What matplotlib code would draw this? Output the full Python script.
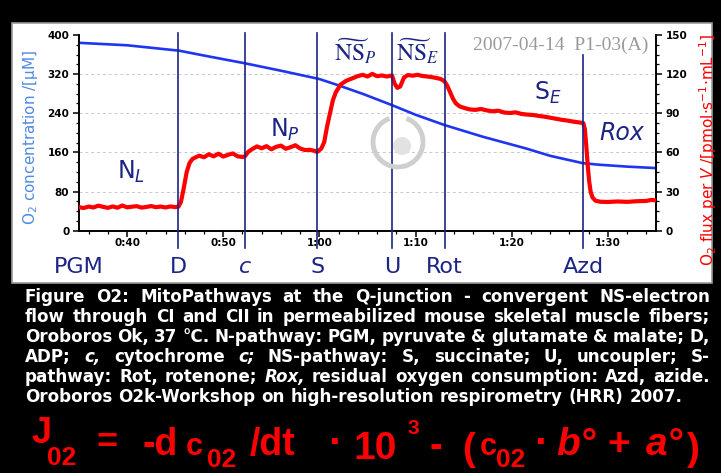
import matplotlib
matplotlib.use("Agg")
import matplotlib.pyplot as plt
from matplotlib.patches import Rectangle, Arc, Circle
from matplotlib.ticker import MultipleLocator
import matplotlib.transforms as mtransforms

W, H = 721, 473

# O2 concentration (blue, left axis), time in minutes
o2_time = [35, 40, 45.4, 48, 52.3, 56, 60, 62, 64.6, 67.5, 70, 73, 77, 81.5, 84, 87.4, 89, 92, 95]
o2_conc = [384, 379, 368, 358, 342, 327, 310, 297, 279, 257, 237, 216, 192, 168, 153, 138, 135, 131, 128]

# O2 flux per volume (red, right axis)
flux_time = [35, 35.5, 36, 36.5, 37, 37.5, 38, 38.5, 39, 39.5, 40, 40.5, 41, 41.5, 42, 42.5, 43, 43.5,
             44, 44.5, 45, 45.34,
             45.6, 45.9, 46.2, 46.5, 46.8, 47.2,
             47.5, 48, 48.5, 49, 49.5, 50, 50.5, 51, 51.5, 52, 52.25,
             52.6, 53, 53.5, 54, 54.5, 55, 55.5, 56, 56.5, 57, 57.5, 58, 58.5, 59, 59.5, 59.76,
             60.2, 60.5, 60.8, 61.1, 61.4, 61.7, 62.2, 62.8, 63.5, 64, 64.5, 65, 65.5, 66, 66.5, 67, 67.55,
             67.8, 68.1, 68.4, 68.8, 69.2, 69.7, 70.2, 70.7, 71.2, 71.7, 72.2, 72.6, 73.01,
             73.3, 73.6, 73.9, 74.2, 74.6, 75.1, 75.6, 76.2, 76.8, 77.4, 78, 78.6, 79.2, 79.8, 80.4,
             81, 81.6, 82.2, 82.8, 83.4, 84, 84.6, 85.2, 85.8, 86.4, 87, 87.44,
             87.6, 87.75, 87.9, 88.05, 88.2, 88.4, 88.7, 89.2, 90, 91, 92, 93, 94, 94.5, 95]
flux_val = [18.0, 17.4, 18.5, 17.8, 19.2, 18.3, 17.5, 18.6, 17.6, 19.3, 17.9, 18.4, 18.8, 17.7, 18.2, 18.9, 18.0, 18.5,
            17.8, 18.6, 18.1, 18.4,
            22, 33, 45, 52, 55, 56.5,
            57.5, 56.3, 58.6, 57.0, 59.0, 56.8, 58.2, 59.2, 57.0, 56.5, 57.0,
            60.5, 62.5, 64.6, 63.2, 64.8, 62.4, 64.3, 65.2, 62.8, 64.0, 65.5, 63.0, 61.8, 62.0, 61.2, 60.3,
            63, 68, 80, 90, 100, 106, 112, 115, 117, 118.5, 119.5, 118.2, 120.2, 118.4, 119.0, 118.2, 119.0,
            113, 109.5, 110.5, 117.5, 119.3, 118.8, 119.5, 118.6, 118.2, 117.7, 117.0, 116.3, 114.5,
            111, 106, 101, 97.5, 95.2, 94.0, 93.0, 92.6, 93.3, 92.2, 91.5, 92.0, 90.6, 90.2, 90.7,
            89.5, 89.0, 88.7, 88.0, 87.4, 86.6, 85.8, 85.0, 84.4, 83.6, 83.0, 82.5,
            78, 65, 50, 38, 30, 25.5, 23.0, 22.2, 22.0, 22.4, 22.1, 22.6, 22.8, 23.6, 23.2]

# titration events
event_labels = ["D", "c", "S", "U", "Rot", "Azd"]
event_times = [45.34, 52.25, 59.76, 67.55, 73.01, 87.44]

x_ticks = [40, 50, 60, 70, 80, 90]
x_ticklabels = ["0:40", "0:50", "1:00", "1:10", "1:20", "1:30"]
left_ticks = [0, 80, 160, 240, 320, 400]
right_ticks = [0, 30, 60, 90, 120, 150]

caption_lines = [
    "Figure O2: MitoPathways at the Q-junction - convergent NS-electron",
    "flow through CI and CII in permeabilized mouse skeletal muscle fibers;",
    "Oroboros Ok, 37 °C. N-pathway: PGM, pyruvate & glutamate & malate; D,",
    "ADP; c, cytochrome c; NS-pathway: S, succinate; U, uncoupler; S-",
    "pathway: Rot, rotenone; Rox, residual oxygen consumption: Azd, azide.",
    "Oroboros O2k-Workshop on high-resolution respirometry (HRR) 2007.",
]
italic_words = {"c,", "c;", "Rox,"}

NAVY = "#1c2484"
BLUE = "#1f35f0"
RED = "#ff0000"

fig = plt.figure(figsize=(W / 100, H / 100), dpi=100, facecolor="black")

# white panel behind the chart
fig.add_artist(Rectangle((12 / W, 1 - 283 / H), 700 / W, 260 / H, transform=fig.transFigure,
                         facecolor="white", edgecolor="#9a9a9a", lw=1.2, zorder=0))

ax = fig.add_axes([79 / W, 1 - 230.7 / H, 577 / W, 195.7 / H])
ax.set_facecolor("none")
ax.set_xlim(35, 95)
ax.set_ylim(0, 400)
ax2 = ax.twinx()
ax2.set_ylim(0, 150)

for v in [80, 160, 240, 320]:
    ax.axhline(v, color="#c8c8c8", lw=0.7, ls=(0, (3, 3)), zorder=0)

ax.plot(o2_time, o2_conc, color=BLUE, lw=1.9, zorder=3)
ax2.plot(flux_time, flux_val, color=RED, lw=3.0, solid_capstyle="round", solid_joinstyle="round", zorder=3)

# vertical event lines and labels below
for lab, t in zip(event_labels, event_times):
    top = 0.898 if lab == "Azd" else 1.012
    ax2.axvline(t, ymin=-0.088, ymax=top, color=NAVY, lw=1.2, clip_on=False, zorder=6)
    ax2.text(t, -0.184, lab, transform=ax2.get_xaxis_transform(), ha="center", va="center",
             fontsize=16, color=NAVY, style="italic" if lab == "c" else "normal")
ax2.text(35, -0.184, "PGM", transform=ax2.get_xaxis_transform(), ha="center", va="center",
         fontsize=16, color=NAVY)

# state labels
ax.text(40.4, 121, r"N$_L$", fontsize=17, color=NAVY, ha="center", va="center")
ax.text(56.4, 206, r"N$_P$", fontsize=17, color=NAVY, ha="center", va="center")
ax.text(83.8, 282, r"S$_E$", fontsize=17, color=NAVY, ha="center", va="center")
ax.text(91.4, 200, "Rox", fontsize=17, color=NAVY, ha="center", va="center", style="italic")
ax.text(63.7, 366, r"$\widetilde{\mathrm{NS}}_{P}$", fontsize=17, color=NAVY, ha="center",
        va="center", math_fontfamily="stix")
ax.text(70.2, 366, r"$\widetilde{\mathrm{NS}}_{E}$", fontsize=17, color=NAVY, ha="center",
        va="center", math_fontfamily="stix")

ax.text(0.986, 0.949, "2007-04-14  P1-03(A)", transform=ax.transAxes, ha="right", va="center",
        fontsize=14, color="#9a9a9a", family="Liberation Serif")

# faint logo
ring = Arc((398, H - 142), 50, 50, theta1=110, theta2=430, transform=mtransforms.IdentityTransform(),
           color="#cfcfcf", lw=3.5, zorder=1)
fig.add_artist(ring)
fig.add_artist(Circle((402, H - 146), 9, transform=mtransforms.IdentityTransform(),
                      facecolor="#e2e2e2", edgecolor="none", zorder=1))

# axes styling
ax.set_xticks(x_ticks)
ax.set_xticklabels(x_ticklabels)
ax.xaxis.set_minor_locator(MultipleLocator(2))
ax.set_yticks(left_ticks)
ax.yaxis.set_minor_locator(MultipleLocator(20))
ax2.set_yticks(right_ticks)
ax2.yaxis.set_minor_locator(MultipleLocator(7.5))
for a in (ax, ax2):
    a.spines["top"].set_visible(False)
    for s in a.spines.values():
        s.set_linewidth(1.2)
    a.tick_params(which="major", direction="out", length=4, width=1.1, pad=3, labelsize=7.5)
    a.tick_params(which="minor", direction="out", length=2.5, width=0.9)
    for lbl in a.get_xticklabels() + a.get_yticklabels():
        lbl.set_fontweight("bold")
ax.tick_params(axis="x", pad=1.5)

ax.set_ylabel(r"O$_2$ concentration /[µM]", color="#4f8ae0", fontsize=11)
ax.yaxis.set_label_coords(-0.068, 0.474)
ax2.set_ylabel(r"O$_2$ flux per $V$ /[pmol·s$^{-1}$·mL$^{-1}$]", color=RED, fontsize=11)
ax2.yaxis.set_label_coords(1.071, 0.412)

# caption, justified like the original
renderer = fig.canvas.get_renderer()
probe = fig.text(0, 0, caption_lines[-1], fontsize=10, fontweight="bold")
cap_size = 10 * 660 / probe.get_window_extent(renderer).width
probe.remove()

left_px, right_px = 25, 710
for i, line in enumerate(caption_lines):
    base = 1 - (301.7 + 20 * i) / H
    words = line.split(" ")
    texts = []
    for w in words:
        texts.append(fig.text(0, base, w, color="white", fontsize=cap_size, fontweight="bold",
                              style="italic" if w in italic_words else "normal",
                              ha="left", va="baseline"))
    widths = [t.get_window_extent(renderer).width for t in texts]
    if i < len(caption_lines) - 1:
        gap = (right_px - left_px - sum(widths)) / (len(words) - 1)
    else:
        sp = fig.text(0, 0, "a a", fontsize=cap_size, fontweight="bold")
        sa = fig.text(0, 0, "aa", fontsize=cap_size, fontweight="bold")
        gap = sp.get_window_extent(renderer).width - sa.get_window_extent(renderer).width
        sp.remove()
        sa.remove()
    x = left_px
    for t, w in zip(texts, widths):
        t.set_x(x / W)
        x += w + gap

# formula in red
formula = [
    ("J", 31, 443, 26, "normal"),
    ("02", 47, 465, 19, "normal"),
    ("=", 96, 453, 26, "normal"),
    ("-d", 143, 455, 27, "normal"),
    ("c", 186, 455, 22, "normal"),
    ("02", 207, 467, 19, "normal"),
    ("/dt", 250, 455, 27, "normal"),
    ("·", 328, 455, 30, "normal"),
    ("10", 354, 459, 28, "normal"),
    ("3", 408, 434, 15, "normal"),
    ("-", 430, 457, 27, "normal"),
    ("(", 462, 460, 28, "normal"),
    ("c", 480, 455, 22, "normal"),
    ("02", 496, 467, 19, "normal"),
    ("·", 534, 455, 30, "normal"),
    ("b°", 556, 455, 28, "italic"),
    ("+", 607, 455, 28, "normal"),
    ("a°", 646, 455, 28, "italic"),
    (")", 687, 460, 28, "normal"),
]
for s, x, y, size, st in formula:
    fig.text(x / W, 1 - y / H, s, color=RED, fontsize=size, fontweight="bold", style=st,
             family=["Liberation Sans Narrow", "Liberation Sans", "DejaVu Sans"],
             ha="left", va="baseline")

fig.savefig("out.png", dpi=100, facecolor="black")
